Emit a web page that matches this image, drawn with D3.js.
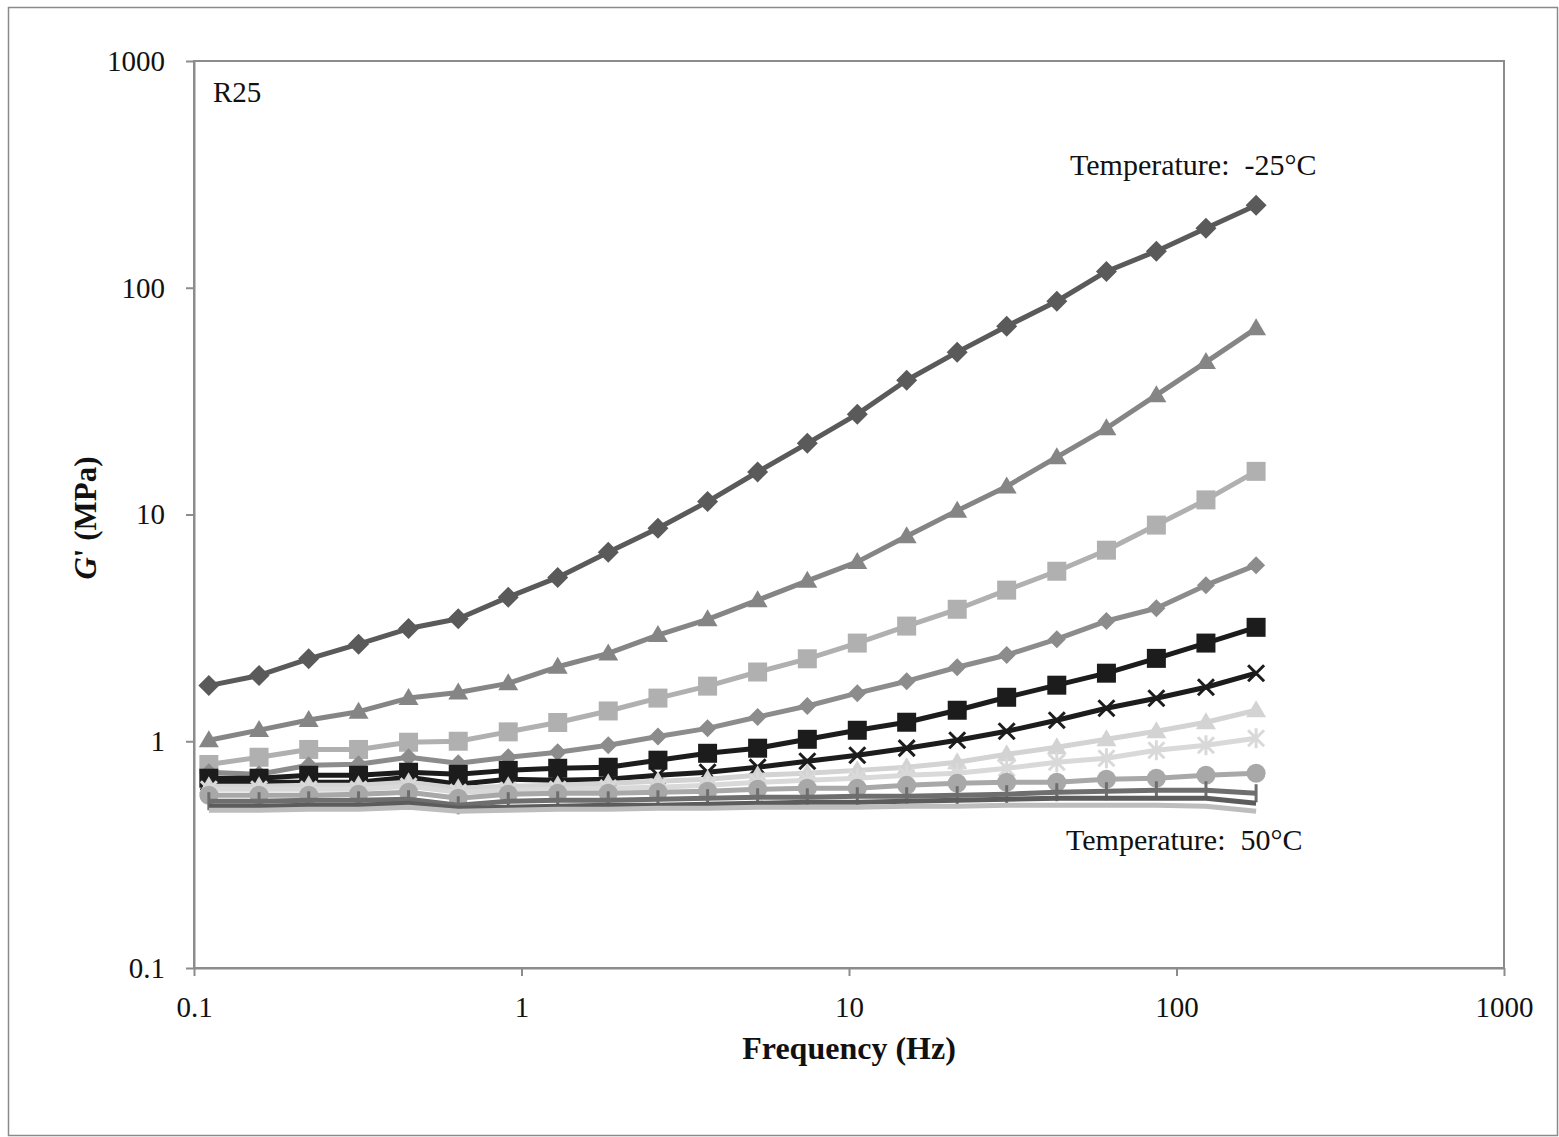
<!DOCTYPE html>
<html>
<head>
<meta charset="utf-8">
<script src="https://cdn.jsdelivr.net/npm/d3@7"></script>
<style>
  html, body { margin: 0; padding: 0; background: #fff; }
  svg { display: block; }
  text { font-family: "Liberation Serif", "Times New Roman", serif; fill: #111; }
</style>
</head>
<body>
<svg id="chart" width="1559" height="1137"></svg>
<script>
// ---------- data ----------
const frequencies = [0.111, 0.158, 0.224, 0.318, 0.452, 0.641, 0.911, 1.29, 1.84, 2.61, 3.70,
                     5.26, 7.46, 10.6, 15.0, 21.4, 30.3, 43.1, 61.1, 86.8, 123, 175];

const s1 = [1.76, 1.95, 2.31, 2.68, 3.14, 3.47, 4.32, 5.28, 6.82, 8.70, 11.4, 15.4, 20.6, 27.7, 39.1, 52.0, 67.6, 87.2, 118, 145, 183, 231];
const s2 = [1.01, 1.12, 1.24, 1.35, 1.55, 1.64, 1.80, 2.13, 2.44, 2.94, 3.45, 4.19, 5.10, 6.18, 8.02, 10.4, 13.3, 17.9, 24.0, 33.6, 47.0, 66.2];
const s3 = [0.79, 0.85, 0.92, 0.92, 0.99, 1.00, 1.10, 1.21, 1.36, 1.55, 1.75, 2.02, 2.31, 2.71, 3.22, 3.82, 4.64, 5.62, 6.96, 8.98, 11.6, 15.5];
const s4 = [0.73, 0.715, 0.784, 0.792, 0.85, 0.80, 0.85, 0.894, 0.96, 1.05, 1.14, 1.28, 1.43, 1.63, 1.84, 2.12, 2.40, 2.82, 3.39, 3.86, 4.88, 5.98];
const s5 = [0.687, 0.687, 0.708, 0.708, 0.730, 0.715, 0.744, 0.760, 0.768, 0.825, 0.885, 0.932, 1.02, 1.118, 1.213, 1.37, 1.563, 1.767, 1.996, 2.32, 2.71, 3.18];
const s6 = [0.659, 0.659, 0.659, 0.659, 0.694, 0.646, 0.680, 0.673, 0.680, 0.708, 0.730, 0.768, 0.816, 0.867, 0.932, 1.01, 1.107, 1.238, 1.398, 1.547, 1.73, 1.996];
const s7 = [0.633, 0.633, 0.639, 0.639, 0.659, 0.621, 0.633, 0.639, 0.653, 0.666, 0.680, 0.708, 0.722, 0.744, 0.768, 0.808, 0.876, 0.941, 1.02, 1.107, 1.213, 1.37];
const s8 = [0.614, 0.614, 0.614, 0.614, 0.633, 0.596, 0.608, 0.614, 0.621, 0.627, 0.639, 0.659, 0.673, 0.687, 0.708, 0.722, 0.760, 0.808, 0.841, 0.913, 0.960, 1.031];
const s9 = [0.578, 0.578, 0.578, 0.584, 0.596, 0.561, 0.584, 0.590, 0.590, 0.596, 0.602, 0.614, 0.621, 0.621, 0.639, 0.653, 0.659, 0.659, 0.680, 0.687, 0.708, 0.722];
const s10 = [0.544, 0.544, 0.549, 0.549, 0.555, 0.522, 0.544, 0.549, 0.549, 0.555, 0.561, 0.566, 0.566, 0.572, 0.572, 0.578, 0.584, 0.596, 0.602, 0.608, 0.608, 0.590];
const s11 = [0.517, 0.517, 0.522, 0.522, 0.533, 0.506, 0.511, 0.517, 0.522, 0.522, 0.527, 0.533, 0.538, 0.538, 0.544, 0.549, 0.555, 0.561, 0.561, 0.561, 0.561, 0.533];
const s12 = [0.496, 0.496, 0.501, 0.501, 0.511, 0.491, 0.496, 0.501, 0.501, 0.506, 0.506, 0.511, 0.511, 0.511, 0.517, 0.517, 0.522, 0.522, 0.522, 0.522, 0.517, 0.491];

const seriesValues = [s1, s2, s3, s4, s5, s6, s7, s8, s9, s10, s11, s12];
const seriesColors = ["#5a5a5a", "#858585", "#b0b0b0", "#8c8c8c", "#1c1c1c", "#1c1c1c",
                      "#d3d3d3", "#d9d9d9", "#a8a8a8", "#6e6e6e", "#5c5c5c", "#bdbdbd"];
const seriesMarkers = ["diamond", "triangle", "square", "diamondS", "square", "x",
                       "triangle", "star", "circle", "plus", "none", "none"];

const xTickValues = [0.1, 1, 10, 100, 1000];
const xTickLabels = ["0.1", "1", "10", "100", "1000"];
const yTickValues = [0.1, 1, 10, 100, 1000];
const yTickLabels = ["0.1", "1", "10", "100", "1000"];

// ---------- layout ----------
const svg = d3.select("#chart");
const L = 194, R = 1504, T = 61, B = 968;

svg.append("rect").attr("x", 8.5).attr("y", 7.5).attr("width", 1549).attr("height", 1128)
  .attr("fill", "none").attr("stroke", "#8a8a8a").attr("stroke-width", 1.5);

const x = d3.scaleLog().domain([0.1, 1000]).range([L, R]);
const y = d3.scaleLog().domain([0.1, 1000]).range([B, T]);

// plot frame
svg.append("rect").attr("x", L).attr("y", T).attr("width", R - L).attr("height", B - T)
  .attr("fill", "none").attr("stroke", "#8c8c8c").attr("stroke-width", 2);

// axes
const xAxis = d3.axisBottom(x).tickValues(xTickValues)
  .tickFormat((d, i) => xTickLabels[i]).tickSizeInner(8).tickSizeOuter(0).tickPadding(20);
const gx = svg.append("g").attr("transform", `translate(0,${B})`).call(xAxis);
const yAxis = d3.axisLeft(y).tickValues(yTickValues)
  .tickFormat((d, i) => yTickLabels[i]).tickSizeInner(8).tickSizeOuter(0).tickPadding(21);
const gy = svg.append("g").attr("transform", `translate(${L},0)`).call(yAxis);
[gx, gy].forEach(g => {
  g.select(".domain").attr("stroke", "#8c8c8c").attr("stroke-width", 2);
  g.selectAll(".tick line").attr("stroke", "#8c8c8c").attr("stroke-width", 2);
  g.selectAll(".tick text").attr("font-family", "Liberation Serif").attr("font-size", 29).attr("fill", "#111");
});
gx.selectAll(".tick text").attr("dy", "0.71em");

// marker shapes
function markerPath(type) {
  switch (type) {
    case "diamond": return "M0,-10.5L10.5,0L0,10.5L-10.5,0Z";
    case "diamondS": return "M0,-9L9,0L0,9L-9,0Z";
    case "triangle": return "M0,-10L10,7L-10,7Z";
    case "square": return "M-9.5,-9.5H9.5V9.5H-9.5Z";
    case "circle": return "M9.5,0A9.5,9.5 0 1,1 -9.5,0A9.5,9.5 0 1,1 9.5,0Z";
    case "x": return "M-8,-8L8,8M-8,8L8,-8";
    case "star": return "M-8,-8L8,8M-8,8L8,-8M0,-10V10";
    case "plus": return "M0,-9V9";
    default: return null;
  }
}
const strokeOnly = { x: true, star: true, plus: true };

const line = d3.line().x((d, i) => x(frequencies[i])).y(d => y(d));

const plot = svg.append("g");
seriesValues.forEach((vals, si) => {
  const g = plot.append("g");
  const col = seriesColors[si];
  g.append("path").datum(vals).attr("d", line)
    .attr("fill", "none").attr("stroke", col).attr("stroke-width", 5)
    .attr("stroke-linejoin", "round");
  const m = seriesMarkers[si];
  const p = markerPath(m);
  if (p) {
    g.selectAll("path.mk").data(vals).join("path").attr("class", "mk")
      .attr("transform", (d, i) => `translate(${x(frequencies[i])},${y(d)})`)
      .attr("d", p)
      .attr("fill", strokeOnly[m] ? "none" : col)
      .attr("stroke", col)
      .attr("stroke-width", strokeOnly[m] ? 3 : 0);
  }
});

// annotations
svg.append("text").attr("x", 213).attr("y", 102).attr("font-size", 29).text("R25");
svg.append("text").attr("x", 1070).attr("y", 175).attr("font-size", 30)
  .style("white-space", "pre").text("Temperature:  -25°C");
svg.append("text").attr("x", 1066).attr("y", 850).attr("font-size", 30)
  .style("white-space", "pre").text("Temperature:  50°C");

// axis titles
svg.append("text").attr("x", 849).attr("y", 1059).attr("text-anchor", "middle")
  .attr("font-size", 32).attr("font-weight", "bold").text("Frequency (Hz)");
const yt = svg.append("text").attr("transform", "translate(96,518) rotate(-90)")
  .attr("text-anchor", "middle").attr("font-size", 31).attr("font-weight", "bold");
yt.append("tspan").attr("font-style", "italic").text("G");
yt.append("tspan").text("' (MPa)");
</script>
</body>
</html>
